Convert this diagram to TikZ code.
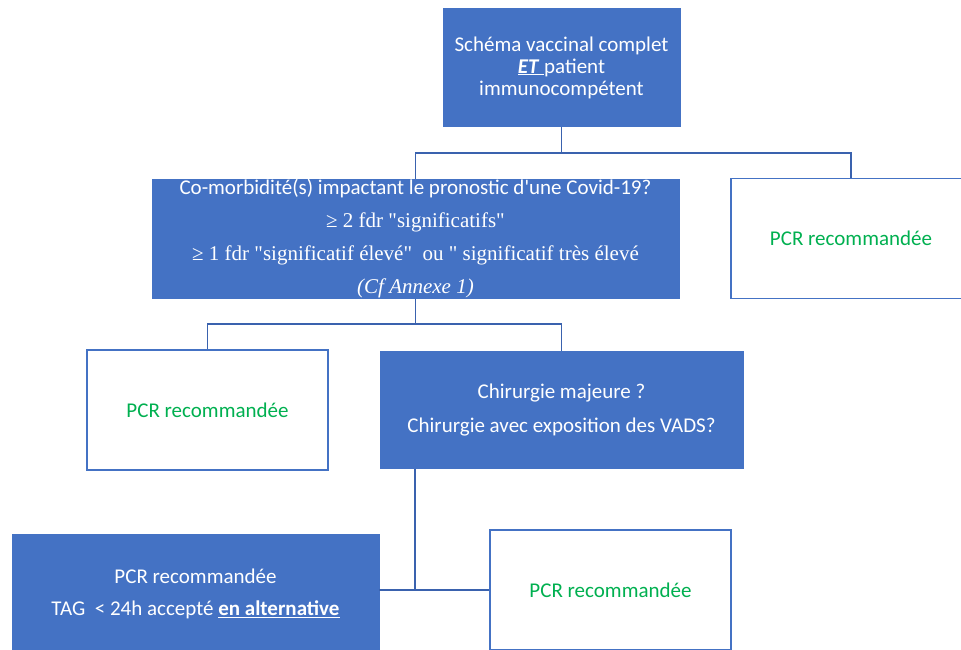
\documentclass[tikz,border=0pt]{standalone}
\usepackage{fontspec}
\setmainfont{Carlito}
\newfontfamily\timesfont{Liberation Serif}
\usetikzlibrary{positioning}
\definecolor{boxblue}{HTML}{4472C4}
\definecolor{linkblue}{HTML}{3A62AE}
\definecolor{okgreen}{HTML}{00B050}

\begin{document}
\begin{tikzpicture}[x=1pt, y=-1pt,
  font=\fontsize{21}{32}\selectfont,
  blue box/.style={fill=boxblue, draw=boxblue, text=white, align=center, inner sep=0pt},
  pcr box/.style={draw=boxblue, line width=1.6pt, fill=white, text=okgreen, align=center,
    inner sep=0pt, minimum width=241pt, minimum height=120pt},
  link/.style={draw=linkblue, line width=1.6pt}]
  \useasboundingbox (0,0) rectangle (961,649);
  \clip (0,0) rectangle (961,649);
  \fill[white] (0,0) rectangle (961,649);

  \node[blue box, minimum width=237pt, minimum height=118pt,
    font=\fontsize{21}{22}\selectfont] (top) at (561.5,67.5)
    {Schéma vaccinal complet\\\underline{\textbf{\textit{ET }}}patient\\immunocompétent};
  \node[blue box, minimum width=527pt, minimum height=119pt,
    font=\fontsize{21}{33}\selectfont] (comorb) at (415.5,239)
    {Co-morbidité(s) impactant le pronostic d\textquotesingle une Covid-19?\\
     {\timesfont ≥ 2 fdr "significatifs"}\\
     {\timesfont ≥ 1 fdr "significatif élevé"\ \ ou " significatif très élevé}\\
     {\timesfont\itshape (Cf Annexe 1)}};
  \node[pcr box, minimum width=240pt] (pcrA) at (851,238.5) {PCR recommandée};

  \node[pcr box] (pcrB) at (207.5,410) {PCR recommandée};
  \node[blue box, minimum width=363pt, minimum height=117pt,
    font=\fontsize{21}{34}\selectfont] (chir) at (561.5,410)
    {Chirurgie majeure ?\\Chirurgie avec exposition des VADS?};

  \node[blue box, minimum width=367pt, minimum height=120pt] (tag) at (195.5,594)
    {PCR recommandée\\TAG\ \ \textless\ 24h accepté \underline{\textbf{en alternative}}};
  \node[pcr box] (pcrC) at (610.5,590) {PCR recommandée};

  % liaisons
  \coordinate (j1) at (561.5,153);
  \coordinate (j2) at (415.5,324);
  \coordinate (j3) at (415,590);
  \draw[link] (top.south) -- (j1);
  \draw[link] (j1) -| (comorb.north);
  \draw[link] (j1) -| (pcrA.north);
  \draw[link] (comorb.south) -- (j2);
  \draw[link] (j2) -| (pcrB.north);
  \draw[link] (j2) -| (chir.north);
  \draw[link] ([xshift=-146.5pt]chir.south) -- (j3);
  \draw[link] (j3) -- (j3 -| tag.east);
  \draw[link] (j3) -- (pcrC.west);
\end{tikzpicture}
\end{document}
